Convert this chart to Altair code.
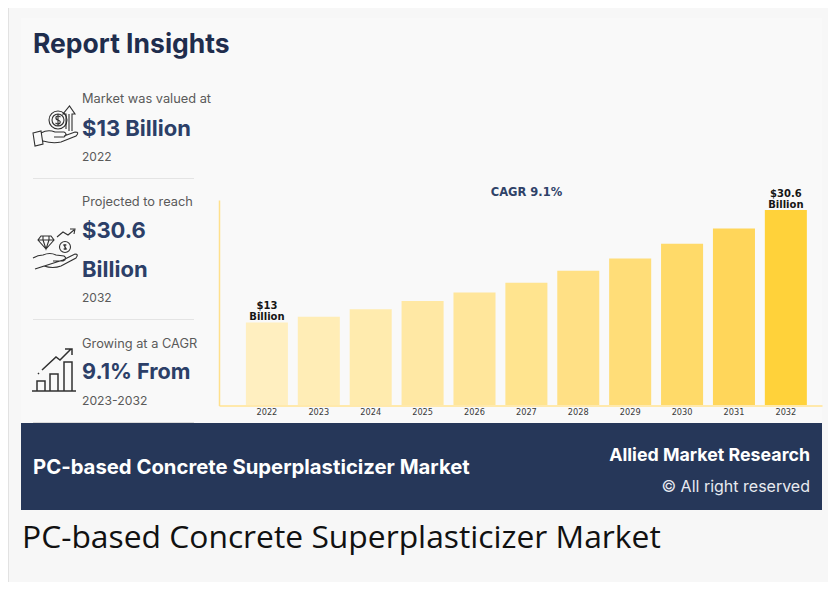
import altair as alt
import pandas as pd

years = ["2022","2023","2024","2025","2026","2027","2028","2029","2030","2031","2032"]
values = [13.0,13.9,15.05,16.35,17.7,19.2,21.1,23.0,25.3,27.7,30.6]
labels = ["$13\nBillion","","","","","","","","","","$30.6\nBillion"]
colors = ["#FFEFC0","#FFEDB6","#FFEBAE","#FFE8A4","#FFE69B","#FFE48F","#FFE085","#FFDD78","#FFDA69","#FFD65A","#FFD23A"]

W, H = 820, 574
HEAD = "Inter"
OX, OY = 8, 8  # page margin

def text(s, x, y, size, color, weight="normal", font=HEAD, align="left"):
    return alt.Chart(pd.DataFrame({"t":[s]})).mark_text(
        align=align, baseline="middle", fontSize=size, color=color, fontWeight=weight, font=font
    ).encode(text="t:N", x=alt.value(x-OX), y=alt.value(y-OY+1))

def box(x0, y0, x1, y1, color):
    return alt.Chart(pd.DataFrame({"a":[0]})).mark_rect(color=color).encode(
        x=alt.value(x0-OX), x2=alt.value(x1-OX), y=alt.value(y0-OY), y2=alt.value(y1-OY))

def icon(path, x, y, sw=1.1):
    return alt.Chart(pd.DataFrame({"a":[0]})).mark_point(
        shape=path, size=4, filled=False, stroke="#1c1c1c", strokeWidth=sw, opacity=0.9
    ).encode(x=alt.value(x-OX), y=alt.value(y-OY))

HAND1 = ("M5 33 L13 31 L15 44 L7 46 Z M13 33 Q20 29 27 32 L36 32 Q40 34 36 37 L26 37 "
         "M36 36 L47 32 Q52 32 48 36 L33 42 Q25 44 15 41")
COIN1 = ("M21 20 A9 9 0 1 1 39 20 A9 9 0 1 1 21 20 Z M24 20 A6 6 0 1 1 36 20 A6 6 0 1 1 24 20 Z "
         "M32.5 17 Q30 15 28 17 Q27.5 19.5 30 20 Q33 21 32 23 Q30 25 27.5 23 M30 14.5 L30 25.5")
ARROW1 = "M38 29 L38 14 L35 14 L41.5 6 L47 14 L44 14 L44 31 M41 14 L41 31"
HAND2 = ("M5 33 Q10 30 15 30 Q22 27 28 30 L36 31 Q40 34 35 36 L25 36 M35 35 L47 29 Q51 29 48 33 "
         "L33 41 Q25 44 16 41 L7 44 Z")
GEM = "M13 11 L23 11 L26 15 L18 24 L10 15 Z M10 15 L26 15 M15 15 L18 24 L21 15 M15 11 L15 15 M21 11 L21 15"
COIN2 = "M31.5 22 A5.5 5.5 0 1 1 42.5 22 A5.5 5.5 0 1 1 31.5 22 Z M37 19 L37 25 M38.5 20 L35.8 20 L38.3 24 L35.5 24"
ZIG = "M29 12 L35 7 L40 10 L46 5 M42 4 L47 4 L46 9"
BARS = ("M4 47 L48 47 M9 47 L9 37 L17 37 L17 47 M22 47 L22 30 L30 30 L30 47 "
        "M36 47 L36 18 L44 18 L44 47")
TREND = "M10 30 L11 29 M14 26 L28 13 L32 16 L43 5 M37 5 L44 5 L44 11"

df = pd.DataFrame({"year":years,"value":values,"label":labels,"color":colors})

xs = alt.Scale(domain=years, range=[211, 814], paddingInner=0.19, paddingOuter=0.405, align=0.64)
ys = alt.Scale(domain=[0, 32.16], range=[397.5, 192], nice=False, zero=True)

base = alt.Chart(df)
bars = base.mark_bar(cornerRadius=0).encode(
    x=alt.X("year:N", scale=xs, sort=years, axis=alt.Axis(
        title=None, ticks=False, labelAngle=0, labelFontSize=8.2, labelFont="DejaVu Sans",
        labelColor="#3a3a3a", labelPadding=3, offset=-(H-397.5), domainColor="#FFE9AC",
        domainWidth=2, zindex=1, grid=False)),
    y=alt.Y("value:Q", scale=ys, axis=alt.Axis(
        title=None, ticks=False, labels=False, grid=False, offset=-211,
        domainColor="#FFE08C", domainWidth=1.5, zindex=1)),
    color=alt.Color("color:N", scale=None),
)
lab = base.mark_text(
    align="center", baseline="bottom", dy=-11, fontSize=10, fontWeight="bold",
    font="DejaVu Sans", color="#151515", lineBreak="\n", lineHeight=11
).encode(x=alt.X("year:N", scale=xs, sort=years), y=alt.Y("value:Q", scale=ys), text="label:N")

NAVY = "#1F2D4D"; BLUE = "#2C3F68"; GRAY = "#5A5A5A"
layers = [
    box(8, 8, 828, 582, "#F7F7F7"),
    box(8, 8, 9, 582, "#E2E2E2"),
    box(21, 18, 822, 423, "#F9F9F9"),
    box(21, 423, 822, 510, "#263759"),
    box(33, 178, 194, 179, "#E4E4E4"),
    box(33, 319, 194, 320, "#E4E4E4"),
    box(33, 422, 194, 423, "#DADADA"),
    bars, lab,
    text("CAGR 9.1%", 526.5, 192, 11.5, "#2F4268", "bold", "DejaVu Sans", "center"),
    text("Report Insights", 33, 44, 26.5, NAVY, "bold"),
    text("Market was valued at", 82, 98, 12.8, GRAY),
    text("$13 Billion", 82, 128, 22, BLUE, "bold"),
    text("2022", 82, 156, 12, GRAY),
    text("Projected to reach", 82, 201, 12.8, GRAY),
    text("$30.6", 82, 230, 22, BLUE, "bold"),
    text("Billion", 82, 269, 22, BLUE, "bold"),
    text("2032", 82, 297, 12, GRAY),
    text("Growing at a CAGR", 82, 342.5, 12.8, GRAY),
    text("9.1% From", 82, 372, 21.6, BLUE, "bold"),
    text("2023-2032", 82, 400, 12.2, GRAY),
    text("PC-based Concrete Superplasticizer Market", 33, 467, 20.3, "#FFFFFF", "bold"),
    text("Allied Market Research", 810, 455, 17.8, "#FFFFFF", "bold", HEAD, "right"),
    text("\u00a9 All right reserved", 810, 486, 16, "#E8EAF0", "normal", HEAD, "right"),
    text("PC-based Concrete Superplasticizer Market", 22, 537, 31.8, "#111111", "normal", "Open Sans"),
    icon(HAND1, 28, 100), icon(COIN1, 28, 100), icon(ARROW1, 28, 100),
    icon(HAND2, 28, 225), icon(GEM, 28, 225), icon(COIN2, 28, 225), icon(ZIG, 28, 225),
    icon(BARS, 28, 344, 1.5), icon(TREND, 28, 344, 1.5),
]

chart = alt.layer(*layers).properties(
    width=W, height=H, autosize="none", padding=0, background="#FFFFFF"
).configure_view(stroke=None)

chart.save("out.html", embed_options={"renderer": "svg", "actions": False})
